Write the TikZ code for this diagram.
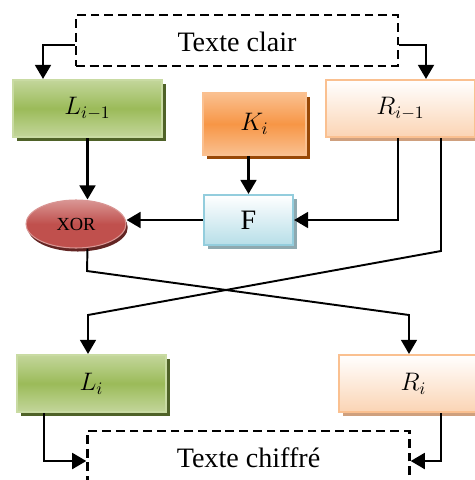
\documentclass[tikz,border=0pt]{standalone}
\usepackage{amsmath}
\usepackage{fontspec}
\setmainfont{Liberation Serif}
\usetikzlibrary{shapes.geometric, shadows, arrows.meta, calc}
\definecolor{fsgreen}{HTML}{9BBB59}
\definecolor{fsgreenlt}{HTML}{C3D69B}
\definecolor{fsgreenedge}{HTML}{C9DBA3}
\definecolor{fsgreendk}{HTML}{4F6228}
\definecolor{fsorange}{HTML}{F79646}
\definecolor{fsorangelt}{HTML}{FAC090}
\definecolor{fsorangedk}{HTML}{984807}
\definecolor{fspeach}{HTML}{FBD4B4}
\definecolor{fspeachedge}{HTML}{FAC090}
\definecolor{fspeachdk}{HTML}{CFA07E}
\definecolor{fsblue}{HTML}{B7DEE8}
\definecolor{fsblueedge}{HTML}{93CDDD}
\definecolor{fsbluedk}{HTML}{8EA9B0}
\definecolor{fsred}{HTML}{C0504D}
\definecolor{fsredlt}{HTML}{D99694}
\definecolor{fsreddk}{HTML}{632523}
\tikzset{
  fsbox/.style={rectangle, draw, line width=1.2pt, inner sep=0pt,
                font=\fontsize{14.5}{16}\selectfont},
  fshalf/.style={fsbox, minimum width=2.98cm, minimum height=1.14cm},
  fsleft/.style={fshalf, draw=fsgreenedge, top color=fsgreenlt,
                 bottom color=fsgreenlt, middle color=fsgreen,
                 general shadow={fill=fsgreendk, shadow xshift=2pt, shadow yshift=-2pt}},
  fsright/.style={fshalf, draw=fspeachedge, top color=white,
                  bottom color=fspeach,
                  general shadow={fill=fspeachdk, shadow xshift=2pt, shadow yshift=-2pt}},
  fskey/.style={fsbox, draw=fsorangelt, top color=fsorangelt,
                bottom color=fsorangelt, middle color=fsorange,
                minimum width=2.06cm, minimum height=1.24cm,
                general shadow={fill=fsorangedk, shadow xshift=2pt, shadow yshift=-2pt}},
  fsfunc/.style={fsbox, draw=fsblueedge, top color=white, bottom color=fsblue,
                 minimum width=1.78cm, minimum height=1.0cm,
                 font=\fontsize{16}{18}\selectfont,
                 general shadow={fill=fsbluedk, shadow xshift=2pt, shadow yshift=-2pt}},
  fsxor/.style={ellipse, draw=fsredlt, line width=0.6pt, top color=fsredlt,
                bottom color=fsred, middle color=fsred, inner sep=0pt,
                minimum width=2cm, minimum height=0.96cm,
                font=\fontsize{10.5}{12}\selectfont,
                general shadow={fill=fsreddk, shadow xshift=1pt, shadow yshift=-2pt}},
  fsplain/.style={rectangle, draw, dashed, line width=1.4pt,
                  dash pattern=on 5pt off 2.8pt,
                  minimum width=6.44cm, minimum height=1.02cm,
                  text height=1.25em, text depth=0.05em,
                  font=\fontsize{16}{18}\selectfont},
  fsarrow/.style={draw, line width=1.4pt,
                  -{Triangle[width=9pt, length=8pt]}},
  fscross/.style={fsarrow, line width=1.1pt}
}
\begin{document}
\begin{tikzpicture}[x=0.02cm, y=-0.02cm]
  \useasboundingbox (0,0) rectangle (475,480);
  \clip (0,0) rectangle (475,480);
  \node[fsplain] (clair)   at (237, 40.5)  {Texte clair};
  \node[fsleft]  (lprev)   at (87.5, 108.5) {$L_{i-1}$};
  \node[fskey]   (key)     at (254.5, 124) {$K_i$};
  \node[fsright] (rprev)   at (400.5, 108.5) {$R_{i-1}$};
  \node[fsxor]   (xor)     at (76, 224)    {XOR};
  \node[fsfunc]  (func)    at (248.5, 220) {F};
  \node[fsleft]  (lcur)    at (91.5, 383.5) {$L_i$};
  \node[fsright] (rcur)    at (413.5, 383.5) {$R_i$};
  \node[fsplain] (chiffre) at (248.5, 456.5) {Texte chiffré};
  % bends of the swap
  \coordinate (swapr) at (441, 251);
  \coordinate (swapl) at (88, 315);
  \coordinate (xorlow) at (87, 271);
  \coordinate (rlow) at (409, 315);
  \draw[fsarrow] ($(clair.west)+(0,4.5)$) -| ($(lprev.north)+(-44.5,0)$);
  \draw[fsarrow] ($(clair.east)+(0,4.5)$) -| ($(rprev.north)+(25.5,0)$);
  \draw[fsarrow] (lprev.south) -- (lprev.south |- xor.north);
  \draw[fsarrow] (key.south -| func.north) -- (func.north);
  \draw[fsarrow] ($(rprev.south)+(-2.5,0)$) |- (func.east);
  \draw[fsarrow] (func.west) -- (func.west -| xor.east);
  \draw[fscross] ($(rprev.south)+(40.5,0)$) -- (swapr) -- (swapl)
    -- ($(lcur.north)+(-3.5,0)$);
  \draw[fscross] (lprev.south |- xor.south) -- (xorlow) -- (rlow)
    -- ($(rcur.north)+(-4.5,0)$);
  \draw[fsarrow] ($(lcur.south)+(-47.5,0)$) |- ($(chiffre.west)+(0,4.5)$);
  \draw[fsarrow] ($(rcur.south)+(27.5,0)$) |- ($(chiffre.east)+(0,4.5)$);
\end{tikzpicture}
\end{document}
